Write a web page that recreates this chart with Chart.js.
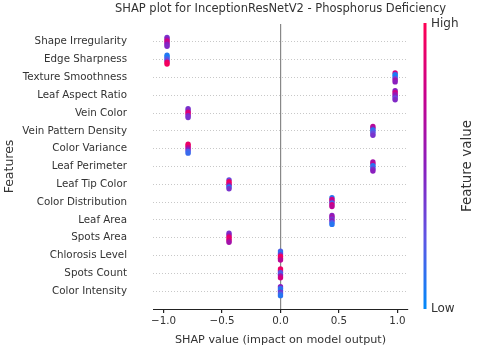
<!DOCTYPE html>
<html>
<head>
<meta charset="utf-8">
<script src="https://cdn.jsdelivr.net/npm/chart.js@4/dist/chart.umd.min.js"></script>
<style>
html,body{margin:0;padding:0;background:#fff;}
#wrap{width:480px;height:349px;}
</style>
</head>
<body>
<div id="wrap"><canvas id="c" width="480" height="349"></canvas></div>
<script>
// ---- data ----
const chartTitle = 'SHAP plot for InceptionResNetV2 - Phosphorus Deficiency';
const features = [
  "Shape Irregularity","Edge Sharpness","Texture Smoothness","Leaf Aspect Ratio",
  "Vein Color","Vein Pattern Density","Color Variance","Leaf Perimeter",
  "Leaf Tip Color","Color Distribution","Leaf Area","Spots Area",
  "Chlorosis Level","Spots Count","Color Intensity"
];
const shapValues = [-0.97,-0.97,0.98,0.98,-0.79,0.79,-0.79,0.79,-0.44,0.44,0.44,-0.44,0.0,0.0,0.0];
// feature value (0 = low, 1 = high) of each sample in a row, top to bottom
const featureLevels = [
  [0.40,0.50,0.80,0.70,0.50,0.45],
  [0.10,0.05,0.20,0.30,0.90,0.95],
  [0.80,0.10,0.05,0.30,0.60,0.50],
  [0.50,0.80,0.60,0.50,0.30,0.45],
  [0.40,0.45,0.80,0.85,0.45,0.40],
  [0.70,0.60,0.10,0.20,0.30,0.40],
  [0.90,0.95,0.70,0.50,0.20,0.15],
  [0.60,0.70,0.10,0.15,0.40,0.50],
  [0.30,0.90,0.95,0.60,0.10,0.40],
  [0.10,0.80,0.70,0.20,0.80,0.70],
  [0.50,0.60,0.40,0.50,0.20,0.10],
  [0.40,0.50,0.85,0.90,0.80,0.60],
  [0.20,0.10,0.40,0.95,0.90,0.70],
  [0.90,0.95,0.30,0.20,0.60,0.80],
  [0.50,0.15,0.10,0.40,0.20,0.10]
];
const xTicks = [-1.0,-0.5,0.0,0.5,1.0];

// ---- colour map (blue -> purple -> red) ----
const cmapStops = [
  [0.00,[0,138,250]],
  [0.25,[95,85,228]],
  [0.50,[138,30,190]],
  [0.75,[200,0,140]],
  [1.00,[255,0,82]]
];
function cmap(v){
  for(let i=1;i<cmapStops.length;i++){
    if(v<=cmapStops[i][0]){
      const [a,ca]=cmapStops[i-1],[b,cb]=cmapStops[i];
      const t=(v-a)/(b-a);
      const c=ca.map((x,k)=>Math.round(x+(cb[k]-x)*t));
      return `rgb(${c[0]},${c[1]},${c[2]})`;
    }
  }
  const c=cmapStops[cmapStops.length-1][1];
  return `rgb(${c[0]},${c[1]},${c[2]})`;
}

// ---- build points (stacked vertically within each row) ----
const pts=[], cols=[];
featureLevels.forEach((row,r)=>{
  const n=row.length;
  row.forEach((lv,i)=>{
    pts.push({x:shapValues[r], y:r+(i-(n-1)/2)*0.1});
    cols.push(cmap(lv));
  });
});

const FONT='DejaVu Sans';
const TXT='#333';

const decorations={
  id:'decorations',
  afterDraw(chart){
    const ctx=chart.ctx, a=chart.chartArea;
    ctx.save();
    // title centred over the plot area
    ctx.fillStyle=TXT;
    ctx.font=`11.5px "${FONT}"`;
    ctx.textAlign='center';ctx.textBaseline='middle';
    ctx.fillText(chartTitle,(a.left+a.right)/2,9);
    // colour bar
    const top=a.top-1, bottom=a.bottom;
    const x=423.5, w=3;
    const g=ctx.createLinearGradient(0,bottom,0,top);
    cmapStops.forEach(s=>g.addColorStop(s[0],`rgb(${s[1].join(',')})`));
    ctx.fillStyle=g;
    ctx.fillRect(x,top,w,bottom-top);
    ctx.fillStyle=TXT;
    ctx.font=`12px "${FONT}"`;
    ctx.textAlign='left';ctx.textBaseline='middle';
    ctx.fillText('High',431,top+1);
    ctx.fillText('Low',431,bottom);
    ctx.translate(467,(top+bottom)/2);
    ctx.rotate(-Math.PI/2);
    ctx.textAlign='center';
    ctx.font=`13.5px "${FONT}"`;
    ctx.fillText('Feature value',0,0);
    ctx.restore();
  }
};

new Chart(document.getElementById('c'),{
  type:'scatter',
  data:{datasets:[{
    data:pts,
    backgroundColor:cols,
    borderWidth:0,
    pointRadius:2.7,
    pointHoverRadius:2.7
  }]},
  options:{
    responsive:false,
    animation:false,
    layout:{padding:{left:0,right:72,top:24,bottom:0}},
    plugins:{
      legend:{display:false},
      tooltip:{enabled:false},
      title:{display:false}
    },
    scales:{
      x:{
        type:'linear',
        min:-1.09,max:1.09,
        afterBuildTicks(s){s.ticks=xTicks.map(v=>({value:v}));},
        afterFit(s){s.height=40;},
        border:{display:true,color:'#222',width:1},
        grid:{
          drawOnChartArea:true,
          color:c=>(c.tick&&c.tick.value===0)?'#888':'rgba(0,0,0,0)',
          lineWidth:1.2,
          drawTicks:true,
          tickLength:4,
          tickColor:'#222'
        },
        ticks:{
          color:TXT,
          font:{family:FONT,size:10.3},
          padding:2,
          maxRotation:0,
          callback:v=>(v<0?'\u2212':'')+Math.abs(v).toFixed(1)
        },
        title:{
          display:true,
          text:'SHAP value (impact on model output)',
          color:TXT,
          font:{family:FONT,size:11.2},
          padding:{top:0,bottom:2}
        }
      },
      y:{
        type:'linear',
        reverse:true,
        min:-1,max:15,
        afterBuildTicks(s){s.ticks=features.map((f,i)=>({value:i}));},
        afterFit(s){s.width=153;},
        border:{display:false,dash:[1,2]},
        grid:{
          color:'#c8c8c8',
          lineWidth:1,
          drawTicks:true,
          tickLength:26,
          tickColor:'rgba(0,0,0,0)'
        },
        ticks:{
          color:TXT,
          font:{family:FONT,size:10.3},
          padding:0,
          autoSkip:false,
          callback:v=>features[v]
        },
        title:{
          display:true,
          text:'Features',
          color:TXT,
          font:{family:FONT,size:12.5},
          padding:{top:2,bottom:0}
        }
      }
    }
  },
  plugins:[decorations]
});
</script>
</body>
</html>
